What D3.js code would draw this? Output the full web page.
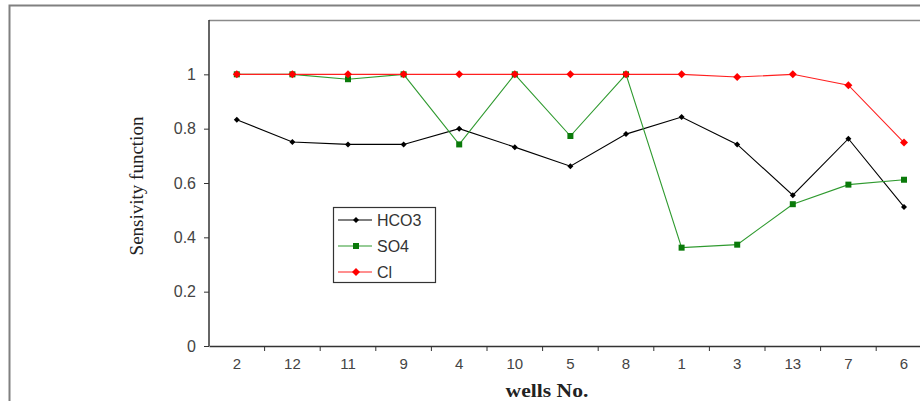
<!DOCTYPE html>
<html>
<head>
<meta charset="utf-8">
<script src="https://cdn.jsdelivr.net/npm/d3@7"></script>
<style>
  body { margin: 0; background: #fff; }
  svg { display: block; }
</style>
</head>
<body>
<script>
var width = 920;
var height = 401;

// data
var wells = ["2", "12", "11", "9", "4", "10", "5", "8", "1", "3", "13", "7", "6"];
var hco3 = [0.833, 0.751, 0.742, 0.742, 0.80, 0.732, 0.662, 0.78, 0.843, 0.742, 0.555, 0.763, 0.512];
var so4 = [1.0, 1.0, 0.982, 1.0, 0.742, 1.0, 0.773, 1.0, 0.362, 0.373, 0.522, 0.594, 0.612];
var cl = [1.0, 1.0, 1.0, 1.0, 1.0, 1.0, 1.0, 1.0, 1.0, 0.99, 1.0, 0.96, 0.749];
var yTicks = [0, 0.2, 0.4, 0.6, 0.8, 1];

var series = [
  {name: "HCO3", values: hco3, color: "#000000", line: "#000000", shape: "diamond", size: 5},
  {name: "SO4", values: so4, color: "#0a7a0a", line: "#2f9a2f", shape: "square", size: 6},
  {name: "Cl", values: cl, color: "#ff0000", line: "#ff2020", shape: "diamond", size: 7}
];

var plot = {left: 209, top: 20, bottom: 346, step: 55.6};
var sans = "Arial, 'Liberation Sans', sans-serif";
var serif = "'Times New Roman', 'Liberation Serif', serif";

var svg = d3.select("body")
  .append("svg")
  .attr("width", width)
  .attr("height", height);

// outer frame
svg.append("rect")
  .attr("x", 9.5)
  .attr("y", 5.5)
  .attr("width", 940)
  .attr("height", 420)
  .attr("fill", "none")
  .attr("stroke", "#808080")
  .attr("stroke-width", 2);

var x = d3.scaleBand()
  .domain(wells)
  .range([plot.left, plot.left + plot.step * wells.length]);

var y = d3.scaleLinear()
  .domain([0, 1.2])
  .range([plot.bottom, plot.top]);

// plot area top border
svg.append("line")
  .attr("x1", plot.left).attr("x2", width)
  .attr("y1", plot.top + 0.5).attr("y2", plot.top + 0.5)
  .attr("stroke", "#8a8a8a")
  .attr("stroke-width", 1.5);

// y axis
var yAxis = svg.append("g")
  .attr("transform", "translate(" + plot.left + ",0)")
  .call(d3.axisLeft(y).tickValues(yTicks).tickSize(5).tickSizeOuter(0).tickFormat(d3.format("")));
yAxis.select(".domain").attr("stroke", "#333").attr("stroke-width", 1.5)
  .attr("d", "M0," + plot.top + "V" + plot.bottom);
yAxis.selectAll(".tick line").attr("stroke", "#333");
yAxis.selectAll(".tick text")
  .attr("font-family", sans)
  .attr("font-size", 16)
  .attr("fill", "#444")
  .attr("x", -13);

// x axis
var xAxis = svg.append("g")
  .attr("transform", "translate(0," + plot.bottom + ")")
  .call(d3.axisBottom(x).tickSize(0).tickSizeOuter(0));
xAxis.select(".domain").attr("stroke", "#333").attr("stroke-width", 1.5);
xAxis.selectAll(".tick text")
  .attr("font-family", sans)
  .attr("font-size", 15)
  .attr("fill", "#444")
  .attr("y", 12);
// tick marks between categories
svg.append("g")
  .selectAll("line")
  .data(wells.slice(1))
  .enter()
  .append("line")
  .attr("x1", d => x(d))
  .attr("x2", d => x(d))
  .attr("y1", plot.bottom)
  .attr("y2", plot.bottom + 5)
  .attr("stroke", "#333");

// axis titles
svg.append("text")
  .attr("transform", "translate(143,186)rotate(-90)")
  .attr("text-anchor", "middle")
  .attr("font-family", serif)
  .attr("font-size", 19)
  .attr("fill", "#222")
  .text("Sensivity function");

svg.append("text")
  .attr("transform", "translate(547,397)scale(1.2,1)")
  .attr("text-anchor", "middle")
  .attr("font-family", serif)
  .attr("font-weight", "bold")
  .attr("font-size", 18)
  .attr("fill", "#222")
  .text("wells No.");

var cx = d => x(d) + x.bandwidth() / 2;

function marker(g, s) {
  if (s.shape === "square") {
    g.append("rect")
      .attr("x", -s.size / 2).attr("y", -s.size / 2)
      .attr("width", s.size).attr("height", s.size)
      .attr("fill", s.color);
  } else {
    var r = s.size / 2 + 0.5;
    g.append("path")
      .attr("d", "M0," + (-r) + "L" + r + ",0L0," + r + "L" + (-r) + ",0Z")
      .attr("fill", s.color);
  }
}

var line = d3.line()
  .x(d => cx(d.well))
  .y(d => y(d.v));

series.forEach(function(s) {
  var pts = wells.map((w, i) => ({well: w, v: s.values[i]}));
  svg.append("path")
    .datum(pts)
    .attr("d", line)
    .attr("fill", "none")
    .attr("stroke", s.line)
    .attr("stroke-width", 1.1);
  svg.append("g")
    .selectAll("g")
    .data(pts)
    .enter()
    .append("g")
    .attr("transform", d => "translate(" + cx(d.well) + "," + y(d.v) + ")")
    .each(function() { marker(d3.select(this), s); });
});

// legend
var legend = svg.append("g").attr("transform", "translate(333,207)");
legend.append("rect")
  .attr("x", 0.5).attr("y", 0.5)
  .attr("width", 102).attr("height", 75)
  .attr("fill", "#fff")
  .attr("stroke", "#333")
  .attr("stroke-width", 1.2);
series.forEach(function(s, i) {
  var row = legend.append("g").attr("transform", "translate(0," + (13 + i * 26) + ")");
  row.append("line")
    .attr("x1", 5).attr("x2", 39)
    .attr("stroke", s.line)
    .attr("stroke-width", 1.1);
  marker(row.append("g").attr("transform", "translate(23,0)"), s);
  row.append("text")
    .attr("x", 44)
    .attr("y", 6)
    .attr("font-family", sans)
    .attr("font-size", 16)
    .attr("fill", "#333")
    .text(s.name);
});
</script>
</body>
</html>
